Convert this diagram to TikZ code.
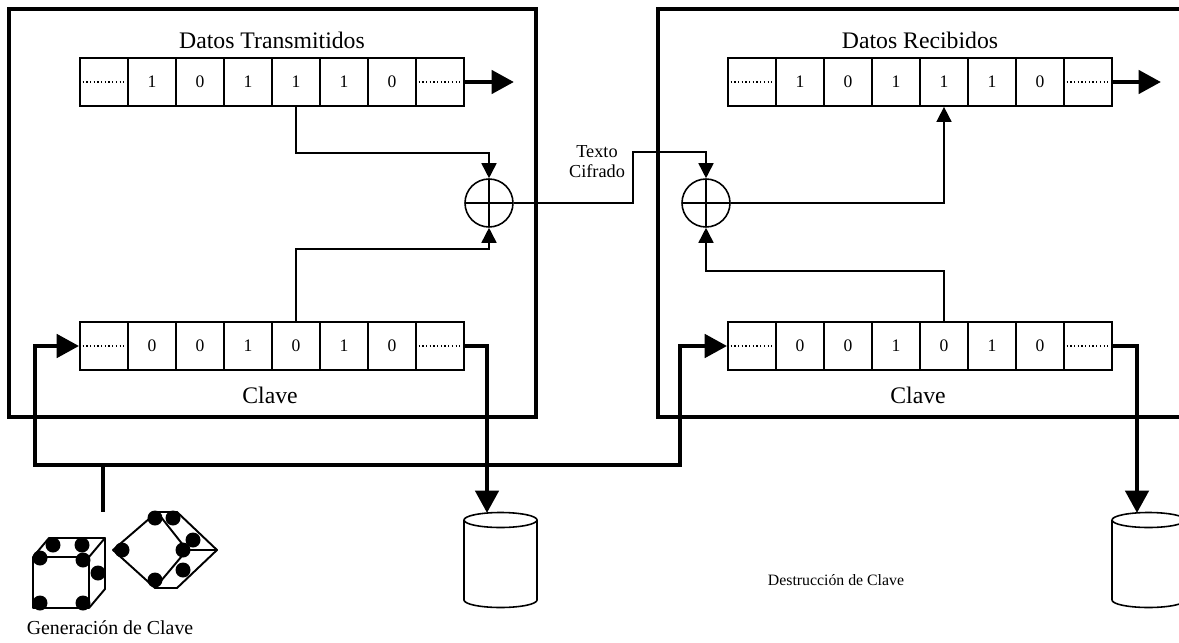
\documentclass[tikz,border=0pt]{standalone}
\usepackage{fontspec}
\setmainfont{Liberation Serif}
\usetikzlibrary{arrows.meta}

\begin{document}
\begin{tikzpicture}[x=0.02cm, y=-0.02cm,
  cell/.style={draw, line width=1pt, minimum width=0.96cm, minimum height=0.96cm, inner sep=0pt, font=\fontsize{10}{12}\selectfont},
  dots/.style={line width=0.7pt, dash pattern=on 0.7pt off 1.4pt},
  xor/.style={draw, circle, line width=0.9pt, minimum size=0.96cm, inner sep=0pt,
    path picture={\draw[line width=0.9pt] (path picture bounding box.north) -- (path picture bounding box.south)
      (path picture bounding box.west) -- (path picture bounding box.east);}},
  link/.style={line width=0.9pt, -{Triangle[length=0.3cm, width=0.3cm]}},
  keyline/.style={line width=2.8pt, -{Triangle[length=0.45cm, width=0.46cm]}},
  frame/.style={line width=2.7pt},
  disk/.style={line width=0.9pt},
  die/.style={line width=1.1pt, line join=round},
  big/.style={font=\fontsize{13.5}{16}\selectfont}]

\useasboundingbox (0,0) rectangle (1179,642);

% --- Transmitter and receiver frames ---
\draw[frame] (9,9) rectangle (536,417);
\draw[frame] (1200,9) -| (658,417) -- (1200,417);

% --- Registers ---
\foreach \b [count=\i] in {{},1,0,1,1,1,0,{}} {
  \node (tx\i) [cell] at ({56+48*\i},82) {\b};
  \node (rx\i) [cell] at ({704+48*\i},82) {\b};
}
\foreach \b [count=\i] in {{},0,0,1,0,1,0,{}} {
  \node (kl\i) [cell] at ({56+48*\i},346) {\b};
  \node (kr\i) [cell] at ({704+48*\i},346) {\b};
}
\foreach \c in {tx1,tx8,rx1,rx8,kl1,kl8,kr1,kr8}
  \draw[dots] ([xshift=2pt]\c.west) -- ([xshift=-2pt]\c.east);

\node (txTitle) [big] at (272,40) {Datos Transmitidos};
\node (rxTitle) [big] at (920,40) {Datos Recibidos};
\node (klLabel) [big] at (270,395) {Clave};
\node (krLabel) [big] at (918,395) {Clave};

% --- XOR stages ---
\node (xorTx) [xor] at (489,203) {};
\node (xorRx) [xor] at (706,203) {};

\draw[link] (tx5.south) -- ++(0,46) -| (xorTx.north);
\draw[link] (kl5.north) -- ++(0,-72) -| (xorTx.south);
\draw[link] (xorTx.east) -- ++(119,0) -- ++(0,-51) -| (xorRx.north);
\draw[link] (xorRx.east) -| (rx5.south);
\draw[link] (kr5.north) -- ++(0,-50) -| (xorRx.south);

\node (cipher) [align=center, font=\fontsize{10.4}{11.5}\selectfont] at (597,162) {Texto\\Cifrado};

% --- Data out ---
\coordinate (txOut) at (514,82);
\coordinate (rxOut) at (1161,82);
\draw[keyline] (tx8.east) -- (txOut);
\draw[keyline] (rx8.east) -- (rxOut);

% --- Key distribution ---
\coordinate (loopL) at (35,465);
\coordinate (loopR) at (680,465);
\coordinate (genTap) at (103,465);
\coordinate (genEnd) at (103,512);
\draw[keyline, {Triangle[length=0.45cm, width=0.46cm]}-{Triangle[length=0.45cm, width=0.46cm]}]
  (kl1.west) -| (loopL) -- (loopR) |- (kr1.west);
\draw[line width=2.8pt] (genTap) -- (genEnd);

% --- Key destruction (disks) ---
\foreach \c/\n in {500.5/diskL, 1148.5/diskR} {
  \coordinate (\n) at (\c,520);
  \draw[disk] (\c-36.5,520) -- (\c-36.5,600) arc[start angle=180, end angle=0, x radius=36.5, y radius=7.5] -- (\c+36.5,520);
  \draw[disk] (\n) ellipse [x radius=36.5, y radius=7.5];
}
\coordinate (dropL) at (487,346);
\coordinate (dropR) at (1137,346);
\draw[keyline] (kl8.east) -- (dropL) -- ([yshift=0.14cm]dropL |- diskL);
\draw[keyline] (kr8.east) -- (dropR) -- ([yshift=0.14cm]dropR |- diskR);

\node (destroy) [font=\fontsize{9}{11}\selectfont] at (836,580) {Destrucción de Clave};

% --- Key generation (dice) ---
\draw[die] (33,557) rectangle (89,608)
  (33,557) -- (49,538) -- (105,538) -- (89,557)
  (105,538) -- (105,589) -- (89,608);
\foreach \p in {(53,545),(82,545),(40,558),(83,560),(98,573),(40,603),(83,603)}
  \fill \p circle (7.5);
\draw[die] (113,550) -- (157,512) -- (177,512) -- (217,550) -- (177,588) -- (155,588) -- cycle
  (157,512) -- (187,550) -- (155,588)
  (187,550) -- (217,550);
\foreach \p in {(155,518),(173,518),(193,540),(183,550),(183,570),(155,580),(122,550)}
  \fill \p circle (7.5);

\node (generate) [font=\fontsize{11.3}{13}\selectfont] at (110,628) {Generación de Clave};

\end{tikzpicture}
\end{document}
